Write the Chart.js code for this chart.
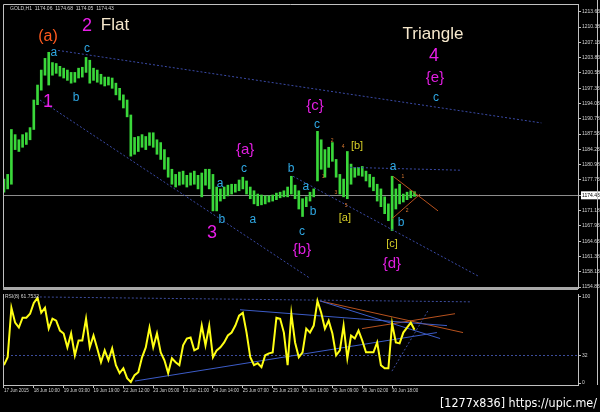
<!DOCTYPE html>
<html><head><meta charset="utf-8">
<script src="https://cdn.jsdelivr.net/npm/chart.js@4.4.1/dist/chart.umd.min.js"></script>
<style>
html,body{margin:0;padding:0;background:#000;width:600px;height:412px;overflow:hidden}
canvas{position:absolute;left:0}
#c1{top:0}
#c2{top:290px}
</style></head>
<body>
<canvas id="c1" width="600" height="292"></canvas>
<canvas id="c2" width="600" height="122"></canvas>
<script>
// ---------------- DATA (H1 bars sampled every 2 hours) ----------------
const symbolHeader = "GOLD,H1  1174.06  1174.68  1174.05  1174.43";
const rsiHeader = "RSI(8) 61.7532";
const lastPrice = 1174.43;

const barHighs = [1177.9,1178.9,1188.5,1187.4,1186.3,1187.4,1187.8,1188.9,1194.8,1198.0,
1201.2,1203.7,1205.0,1202.8,1202.6,1202.0,1201.6,1201.2,1200.7,1200.7,
1201.6,1201.8,1203.9,1203.3,1201.6,1201.2,1200.3,1199.7,1199.7,1199.5,
1198.4,1197.3,1195.9,1194.8,1191.6,1186.8,1187.0,1187.4,1187.0,1187.8,
1187.8,1186.3,1185.7,1184.2,1182.5,1180.0,1178.9,1179.4,1179.6,1178.7,
1179.2,1179.6,1178.7,1179.2,1180.0,1180.0,1178.9,1176.2,1175.8,1176.2,
1176.6,1176.8,1176.8,1177.7,1178.3,1177.5,1176.2,1175.4,1174.7,1174.5,
1174.3,1174.3,1174.5,1174.9,1175.1,1175.4,1176.2,1178.5,1176.6,1175.4,
1173.7,1174.1,1175.1,1175.8,1188.1,1186.3,1184.2,1184.7,1185.7,1182.1,
1178.9,1177.9,1183.8,1181.1,1180.4,1180.4,1180.6,1179.6,1178.9,1178.3,
1176.8,1175.8,1174.1,1172.6,1178.5,1175.8,1176.8,1174.7,1175.1,1175.4,1175.2];

const barLows = [1175.1,1175.8,1176.8,1184.2,1183.8,1184.7,1185.3,1186.3,1188.5,1193.8,
1196.9,1200.1,1198.0,1200.1,1200.5,1199.9,1199.5,1199.0,1198.4,1198.6,
1199.5,1199.7,1200.7,1198.4,1199.0,1198.6,1198.2,1197.8,1198.0,1197.3,
1195.9,1194.8,1193.1,1191.2,1182.8,1183.2,1183.8,1184.7,1184.2,1185.1,
1184.7,1183.2,1182.1,1180.0,1178.3,1176.8,1176.2,1176.6,1176.8,1176.2,
1176.6,1176.8,1175.8,1174.1,1176.6,1175.8,1171.1,1171.1,1173.2,1173.7,
1174.3,1174.7,1175.1,1175.4,1175.8,1174.7,1173.7,1172.6,1172.2,1172.4,
1172.6,1173.0,1173.2,1173.5,1173.9,1174.1,1174.1,1174.7,1173.7,1171.5,
1169.9,1172.0,1173.2,1174.1,1177.5,1180.0,1178.3,1180.4,1181.7,1178.3,
1174.7,1174.1,1173.7,1176.8,1178.3,1178.7,1178.5,1177.5,1176.2,1175.4,
1173.2,1172.0,1170.5,1169.0,1166.9,1171.5,1172.6,1173.0,1173.5,1173.9,1174.2];

const rsiValues = [20.7,29.9,87.4,70.1,64.4,75.9,75.9,80.5,93.1,98.9,
81.6,87.4,63.2,74.7,72.4,60.9,57.5,41.4,57.5,32.2,
49.4,49.4,74.7,41.4,55.2,40.2,24.1,37.9,26.4,40.2,
20.7,11.5,17.2,5.7,1.1,9.2,12.6,29.9,41.4,64.4,
41.4,57.5,35.6,26.4,11.5,28.7,24.1,20.7,43.7,51.7,
52.9,37.9,40.2,66.7,43.7,66.7,29.9,37.9,41.4,47.1,
55.2,58.6,66.7,78.2,81.6,58.6,29.9,20.7,23.0,18.4,
32.2,34.5,35.6,75.9,74.7,58.6,20.7,80.5,47.1,29.9,
35.6,63.2,58.6,66.7,95.4,81.6,63.2,72.4,57.5,32.2,
37.9,66.7,28.7,55.2,51.7,60.9,49.4,35.6,35.6,35.6,
47.1,20.7,17.2,17.2,69.0,47.1,46.0,58.6,64.4,70.1,61.8];

const priceTicks = [1213.63,1210.38,1207.13,1203.83,1200.58,1197.33,1194.03,1190.78,1187.53,
1184.23,1180.98,1177.73,1174.43,1171.18,1167.93,1164.63,1161.38,1158.13,1154.83];
const rsiTicks = [0,32,100];
const rsiLevels = [32];
const timeLabels = ["17 Jun 2015","18 Jun 10:00","19 Jun 03:00","19 Jun 19:00","22 Jun 12:00",
"23 Jun 05:00","23 Jun 21:00","24 Jun 14:00","25 Jun 07:00","25 Jun 23:00","26 Jun 16:00",
"29 Jun 09:00","30 Jun 02:00","30 Jun 18:00"];

// trend lines: [bar, price, bar, price]
const channelLines = [[29,1205.4,288,1189.9],[19.3,1194.8,164,1156.7],[154.9,1178.5,254,1157.2],[185.4,1180.4,244.4,1179.8]];
const triangleLines = [[208.5,1178.5,232.6,1171.1],[207.9,1169.4,223.0,1174.7]];
const rsiSolidLines = [[70.2,2.3,232.0,58.6],[126.5,85.1,237.4,66.7],[169.3,95.4,233.7,51.7]];
const rsiDottedLines = [[17.1,100,249.7,94.3],[207.9,13.8,227.2,83.9]];
const rsiOrangeLines = [[169.3,95.4,246.0,58.6],[191.9,63.2,241.7,80.5]];

// wave labels: [text, bar, price, degree]
const waveLabels = [
["(a)",23.6,1208.3,"primary"],["2",44.5,1210.7,"inter"],["Flat",59.5,1210.7,"title"],
["a",26.8,1205.0,"minor"],["c",44.5,1205.8,"minor"],["1",23.6,1194.4,"inter"],["b",38.6,1195.4,"minor"],
["Triangle",229.9,1208.8,"title"],["4",230.4,1204.1,"inter"],["{e}",231.0,1199.5,"minute"],["c",231.5,1195.4,"minor"],
["{c}",166.7,1193.5,"minute"],["c",167.7,1189.5,"minor"],
["{a}",129.2,1184.2,"minute"],["c",128.6,1180.2,"minor"],
["a",115.8,1177.0,"minor"],["b",116.8,1169.2,"minor"],["3",111.5,1166.3,"inter"],["a",133.4,1169.2,"minor"],
["b",153.8,1180.2,"minor"],["a",161.8,1176.2,"minor"],["b",165.6,1170.9,"minor"],["c",159.7,1166.7,"minor"],["{b}",159.7,1162.7,"minute"],
["1",171.0,1178.5,"micro"],["2",175.8,1186.1,"micro"],["3",177.9,1174.9,"micro"],["4",181.7,1184.9,"micro"],["5",183.3,1172.2,"micro"],
["[b]",189.2,1184.9,"minuette"],["[a]",182.7,1169.6,"minuette"],
["a",208.5,1180.6,"minor"],["1",213.8,1178.5,"micro"],["2",216.0,1171.1,"micro"],["b",212.8,1168.6,"minor"],
["[c]",207.9,1164.1,"minuette"],["{d}",207.9,1159.7,"minute"]
];

// ---------------- STYLE / LAYOUT ----------------
const FONT = "'Liberation Sans', Arial, sans-serif";
const labelStyle = {
  primary:{color:"#ff5a1e",size:16}, inter:{color:"#e81ee8",size:18}, title:{color:"#f6e8cc",size:17},
  minute:{color:"#e01ee0",size:15}, minor:{color:"#2fa8e4",size:12}, minuette:{color:"#d8d028",size:11},
  micro:{color:"#d87830",size:5}
};
const X_MIN = -0.5, X_MAX = 307.6;
const AXIS_COL = "#c0c0c0", TXT_COL = "#d4d4d4";

function seg(a){ return [{x:a[0],y:a[1]},{x:a[2],y:a[3]}]; }
function lineDs(a, color, dash, width){
  return {type:'line', data:seg(a), borderColor:color, borderDash:dash, borderWidth:width||1,
          pointRadius:0, fill:false, tension:0, order:0};
}

const mainDeco = {
  id:'mainDeco',
  beforeDatasetsDraw(chart){
    const {ctx, chartArea:a, scales:{y}} = chart;
    const py = Math.round(y.getPixelForValue(lastPrice))+0.5;
    ctx.save(); ctx.strokeStyle='#8c8c8c'; ctx.lineWidth=1;
    ctx.beginPath(); ctx.moveTo(a.left,py); ctx.lineTo(a.right,py); ctx.stroke(); ctx.restore();
  },
  afterDatasetsDraw(chart){
    const {ctx, chartArea:a, scales:{x,y}} = chart;
    ctx.save();
    ctx.textAlign='center'; ctx.textBaseline='middle';
    waveLabels.forEach(([t,b,p,k])=>{
      const s = labelStyle[k];
      ctx.font = s.size+"px "+FONT; ctx.fillStyle = s.color;
      ctx.fillText(t, x.getPixelForValue(b), y.getPixelForValue(p));
    });
    // frame
    ctx.strokeStyle=AXIS_COL; ctx.lineWidth=1;
    ctx.beginPath();
    ctx.moveTo(a.left+0.5,a.bottom); ctx.lineTo(a.left+0.5,a.top+0.5); ctx.lineTo(a.right,a.top+0.5);
    ctx.moveTo(597.5,0); ctx.lineTo(597.5,292);
    ctx.stroke();
    ctx.fillStyle='#a8a8a8'; ctx.fillRect(a.left, a.bottom-1, a.right-a.left, 3);
    ctx.textAlign='left'; ctx.font="5px "+FONT; ctx.fillStyle=TXT_COL;
    ctx.fillText(symbolHeader, 10, a.top+5);
    ctx.restore();
  }
};

const rsiDeco = {
  id:'rsiDeco',
  beforeDatasetsDraw(chart){
    const {ctx, chartArea:a, scales:{y}} = chart;
    ctx.save(); ctx.strokeStyle='#3c4c9c'; ctx.setLineDash([2,2]); ctx.lineWidth=1;
    rsiLevels.forEach(l=>{ const py=Math.round(y.getPixelForValue(l))+0.5;
      ctx.beginPath(); ctx.moveTo(a.left,py); ctx.lineTo(a.right,py); ctx.stroke(); });
    ctx.restore();
  },
  afterDatasetsDraw(chart){
    const {ctx, chartArea:a} = chart;
    ctx.save();
    ctx.strokeStyle=AXIS_COL; ctx.lineWidth=1;
    ctx.beginPath();
    ctx.moveTo(a.left+0.5,a.top); ctx.lineTo(a.left+0.5,a.bottom);
    ctx.moveTo(597.5,0); ctx.lineTo(597.5,a.bottom);
    ctx.stroke();
    ctx.font="5px "+FONT; ctx.fillStyle=TXT_COL; ctx.textBaseline='middle'; ctx.textAlign='left';
    ctx.fillText(rsiHeader, 5, a.top+3);
    ctx.font="13px 'DejaVu Sans', sans-serif"; ctx.fillStyle='#ffffff'; ctx.textBaseline='alphabetic';
    ctx.fillText("[1277x836] https://upic.me/", 440, 117, 157);
    ctx.restore();
  }
};

const commonX = (display)=>({
  type:'linear', min:X_MIN, max:X_MAX, offset:false, display:display,
  grid:{drawOnChartArea:false, offset:false, color:AXIS_COL, tickLength:3},
  border:{display:true, color:AXIS_COL}
});

// ---------------- MAIN CHART ----------------
new Chart(document.getElementById('c1'), {
  type:'bar',
  data:{datasets:[
    {type:'bar', data:barHighs.map((h,k)=>({x:k*2, y:[barLows[k],h]})),
     backgroundColor:'#3ad83a', borderWidth:0, barThickness:2, grouped:false, order:1},
    ...channelLines.map(l=>lineDs(l,'#3a4aa6',[2,2])),
    ...triangleLines.map(l=>lineDs(l,'#b8521e',[]))
  ]},
  options:{
    responsive:false, animation:false, devicePixelRatio:1,
    layout:{padding:{left:3,top:3,right:0,bottom:2}},
    plugins:{legend:{display:false}, tooltip:{enabled:false}},
    scales:{
      x: commonX(false),
      y:{position:'right', min:1154.62, max:1215.32,
         afterBuildTicks:s=>{ s.ticks = priceTicks.map(v=>({value:v})); },
         afterFit:s=>{ s.width = 22; },
         ticks:{font:{size:5,family:FONT}, padding:1,
           color:c=>c.tick && c.tick.value===lastPrice ? '#000' : TXT_COL,
           showLabelBackdrop:true,
           backdropColor:c=>c.tick && c.tick.value===lastPrice ? '#ffffff' : 'rgba(0,0,0,0)',
           backdropPadding:1,
           callback:v=>v.toFixed(2)},
         grid:{drawOnChartArea:false, color:AXIS_COL, tickLength:3},
         border:{display:true, color:AXIS_COL}}
    }
  },
  plugins:[mainDeco]
});

// ---------------- RSI CHART ----------------
new Chart(document.getElementById('c2'), {
  type:'line',
  data:{datasets:[
    {data:rsiValues.map((v,k)=>({x:k*2,y:v})), borderColor:'#ffff14', borderWidth:2,
     pointRadius:0, tension:0, fill:false, order:0},
    ...rsiSolidLines.map(l=>lineDs(l,'#3c5cc8',[])),
    ...rsiDottedLines.map(l=>lineDs(l,'#3c4c9c',[2,2])),
    ...rsiOrangeLines.map(l=>lineDs(l,'#b8521e',[]))
  ]},
  options:{
    responsive:false, animation:false, devicePixelRatio:1,
    layout:{padding:{left:3,top:3,right:0,bottom:0}},
    plugins:{legend:{display:false}, tooltip:{enabled:false}},
    scales:{
      x:Object.assign(commonX(true), {
        afterBuildTicks:s=>{ s.ticks = timeLabels.map((t,k)=>({value:k*16})); },
        afterFit:s=>{ s.height = 27; },
        ticks:{align:'start', maxRotation:0, autoSkip:false, padding:0,
               font:{size:4.5,family:FONT}, color:TXT_COL,
               callback:(v,i)=>timeLabels[i]}
      }),
      y:{position:'right', min:-2.3, max:103.4,
         afterBuildTicks:s=>{ s.ticks = rsiTicks.map(v=>({value:v})); },
         afterFit:s=>{ s.width = 22; },
         ticks:{font:{size:5,family:FONT}, color:TXT_COL, padding:1},
         grid:{drawOnChartArea:false, color:AXIS_COL, tickLength:3},
         border:{display:true, color:AXIS_COL}}
    }
  },
  plugins:[rsiDeco]
});
</script>
</body></html>
